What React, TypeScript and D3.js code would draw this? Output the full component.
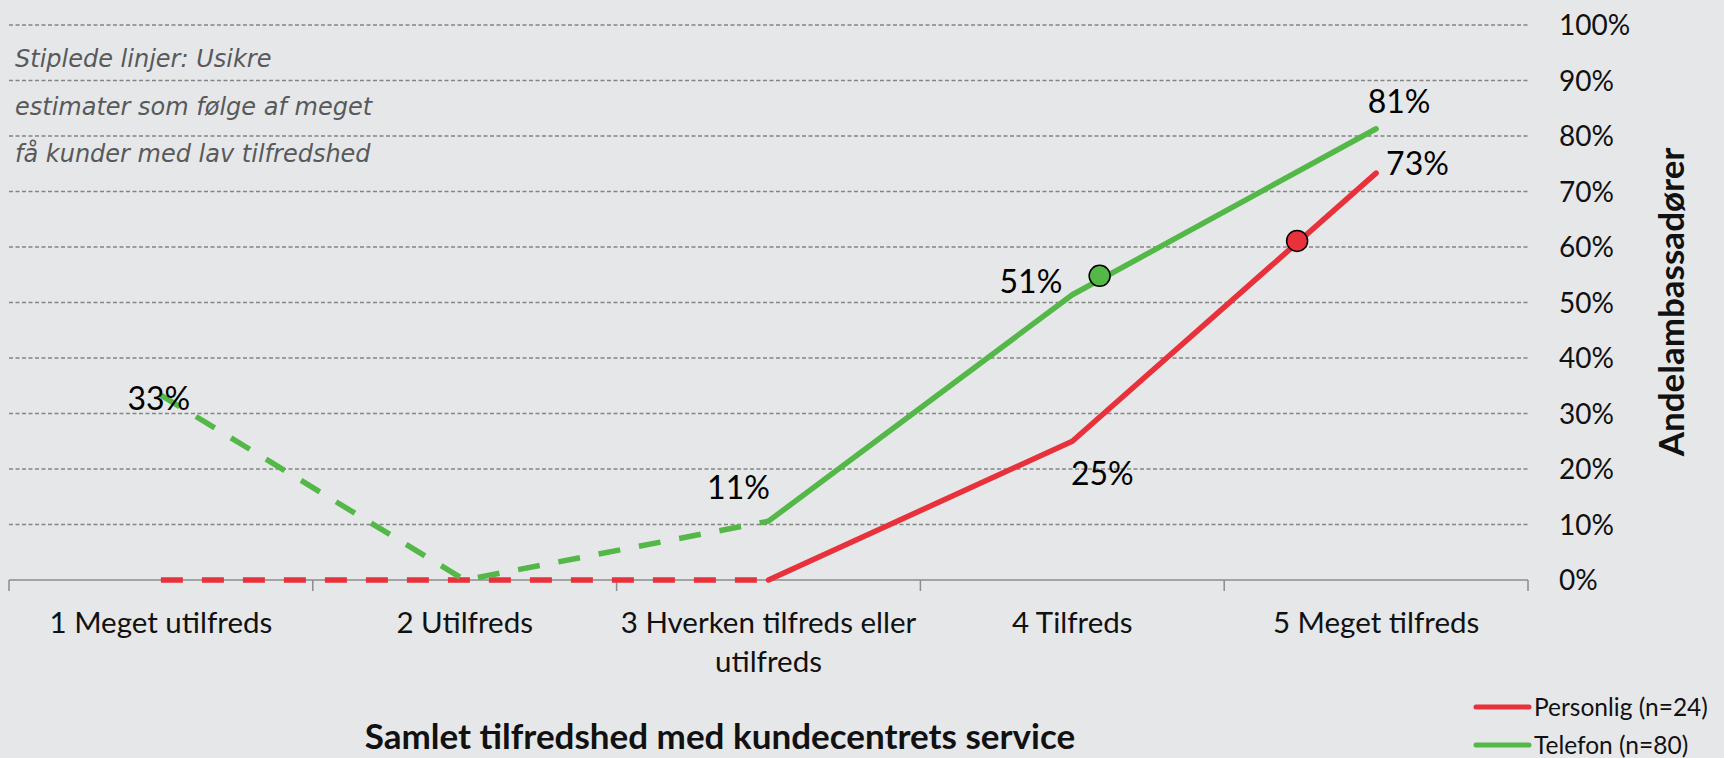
import React from "react";
import * as d3 from "d3";

// ---------- data ----------
const categories = [
  "1 Meget utilfreds",
  "2 Utilfreds",
  "3 Hverken tilfreds eller utilfreds",
  "4 Tilfreds",
  "5 Meget tilfreds",
];
const categoryLines = [
  ["1 Meget utilfreds"],
  ["2 Utilfreds"],
  ["3 Hverken tilfreds eller", "utilfreds"],
  ["4 Tilfreds"],
  ["5 Meget tilfreds"],
];
const personligValues = [0, 0, 0, 0.25, 0.733];
const telefonValues = [0.333, 0, 0.106, 0.514, 0.813];
// index of last point that belongs to the dashed (uncertain) part
const uncertainUntil = 2;
// highlighted markers: fractional category index and value
const personligMarker = { idx: 3.74, value: 0.611 };
const telefonMarker = { idx: 3.09, value: 0.548 };
// which points carry a data label
const personligLabelIdx = [3, 4];
const telefonLabelIdx = [0, 2, 3, 4];
const yTicks = [0, 0.1, 0.2, 0.3, 0.4, 0.5, 0.6, 0.7, 0.8, 0.9, 1.0];
const seriesNames = ["Personlig (n=24)", "Telefon (n=80)"];
const noteLines = [
  "Stiplede linjer: Usikre",
  "estimater som følge af meget",
  "få kunder med lav tilfredshed",
];
const xTitle = "Samlet tilfredshed med kundecentrets service";
const yTitle = "Andelambassadører";

// ---------- styling / layout ----------
const W = 1724;
const H = 758;
const BG = "#E6E7E9";
const RED = "#E8313B";
const GREEN = "#53B848";
const FONT = "Lato, 'Open Sans', sans-serif";
const plot = { left: 9, right: 1528, top: 25, bottom: 580 };

// label offsets (dx, dy, anchor) per series point
const personligLabelPos: Record<number, [number, number, string]> = {
  3: [30, 32, "middle"],
  4: [10, -10, "start"],
};
const telefonLabelPos: Record<number, [number, number, string]> = {
  0: [-2, 3, "middle"],
  2: [-30, -34, "middle"],
  3: [-10, -13, "end"],
  4: [23, -27, "middle"],
};

export default function App() {
  const x = d3
    .scalePoint<number>()
    .domain(categories.map((_, i) => i))
    .range([plot.left, plot.right])
    .padding(0.5);
  const step = x.step();
  const xi = (i: number) => (x(0) as number) + i * step;
  const y = d3.scaleLinear().domain([0, 1]).range([plot.bottom, plot.top]);
  const line = d3
    .line<[number, number]>()
    .x((d) => xi(d[0]))
    .y((d) => y(d[1]));

  const seg = (vals: number[], a: number, b: number) =>
    line(vals.slice(a, b + 1).map((v, k) => [a + k, v] as [number, number])) || "";

  const boundaries = d3.range(categories.length + 1).map((i) => plot.left + i * step);

  const series = [
    { vals: personligValues, color: RED, labels: personligLabelIdx, pos: personligLabelPos, marker: personligMarker },
    { vals: telefonValues, color: GREEN, labels: telefonLabelIdx, pos: telefonLabelPos, marker: telefonMarker },
  ];

  return (
    <svg
      width={W}
      height={H}
      style={{ position: "absolute", left: 0, top: 0, display: "block" }}
      fontFamily={FONT}
    >
      <rect x={0} y={0} width={W} height={H} fill={BG} />

      {/* gridlines */}
      {yTicks
        .filter((t) => t > 0)
        .map((t) => (
          <line
            key={t}
            x1={plot.left}
            x2={plot.right}
            y1={y(t)}
            y2={y(t)}
            stroke="#858585"
            strokeWidth={1.4}
            strokeDasharray="4 2.5"
          />
        ))}

      {/* y tick labels */}
      {yTicks.map((t) => (
        <text key={t} x={1559} y={y(t)} dy="0.36em" fontSize={28} fill="#111">
          {d3.format(".0%")(t)}
        </text>
      ))}

      {/* x axis */}
      <line x1={plot.left} x2={plot.right} y1={plot.bottom} y2={plot.bottom} stroke="#8C8C8C" strokeWidth={1.5} />
      {boundaries.map((bx, i) => (
        <line key={i} x1={bx} x2={bx} y1={plot.bottom} y2={plot.bottom + 11} stroke="#8C8C8C" strokeWidth={1.5} />
      ))}
      {categoryLines.map((lines, i) =>
        lines.map((l, k) => (
          <text key={i + "-" + k} x={xi(i)} y={633 + k * 39} textAnchor="middle" fontSize={29.5} fill="#111">
            {l}
          </text>
        ))
      )}

      {/* note */}
      {noteLines.map((l, k) => (
        <text
          key={k}
          x={15}
          y={67 + k * 47.5}
          fontFamily="'DejaVu Sans', sans-serif"
          fontStyle="italic"
          fontSize={24}
          fill="#58595B"
        >
          {l}
        </text>
      ))}

      {/* series lines */}
      {series.map((s, si) => (
        <g key={si}>
          <path
            d={seg(s.vals, 0, uncertainUntil)}
            fill="none"
            stroke={s.color}
            strokeWidth={5.5}
            strokeDasharray="22 19"
          />
          <path
            d={seg(s.vals, uncertainUntil, s.vals.length - 1)}
            fill="none"
            stroke={s.color}
            strokeWidth={5.5}
            strokeLinecap="round"
            strokeLinejoin="round"
          />
        </g>
      ))}

      {/* markers */}
      {series.map((s, si) => (
        <circle
          key={si}
          cx={xi(s.marker.idx)}
          cy={y(s.marker.value)}
          r={10.5}
          fill={s.color}
          stroke="#000"
          strokeWidth={1.5}
        />
      ))}

      {/* data labels */}
      {series.map((s, si) =>
        s.labels.map((i) => {
          const [dx, dy, anchor] = s.pos[i];
          return (
            <text
              key={si + "-" + i}
              x={xi(i) + dx}
              y={y(s.vals[i]) + dy}
              dy="0.36em"
              textAnchor={anchor}
              fontSize={32}
              fill="#000"
            >
              {d3.format(".0%")(s.vals[i])}
            </text>
          );
        })
      )}

      {/* y title */}
      <text
        transform={`translate(1684, 302) rotate(-90)`}
        textAnchor="middle"
        fontSize={35}
        fontWeight="bold"
        fill="#111"
      >
        {yTitle}
      </text>

      {/* x title */}
      <text x={720} y={749} textAnchor="middle" fontSize={35} fontWeight="bold" fill="#111">
        {xTitle}
      </text>

      {/* legend */}
      {series.map((s, si) => (
        <g key={si}>
          <line
            x1={1476}
            x2={1529}
            y1={707 + si * 38}
            y2={707 + si * 38}
            stroke={s.color}
            strokeWidth={5}
            strokeLinecap="round"
          />
          <text x={1534} y={707 + si * 38} dy="0.36em" fontSize={24.5} fill="#111">
            {seriesNames[si]}
          </text>
        </g>
      ))}
    </svg>
  );
}
